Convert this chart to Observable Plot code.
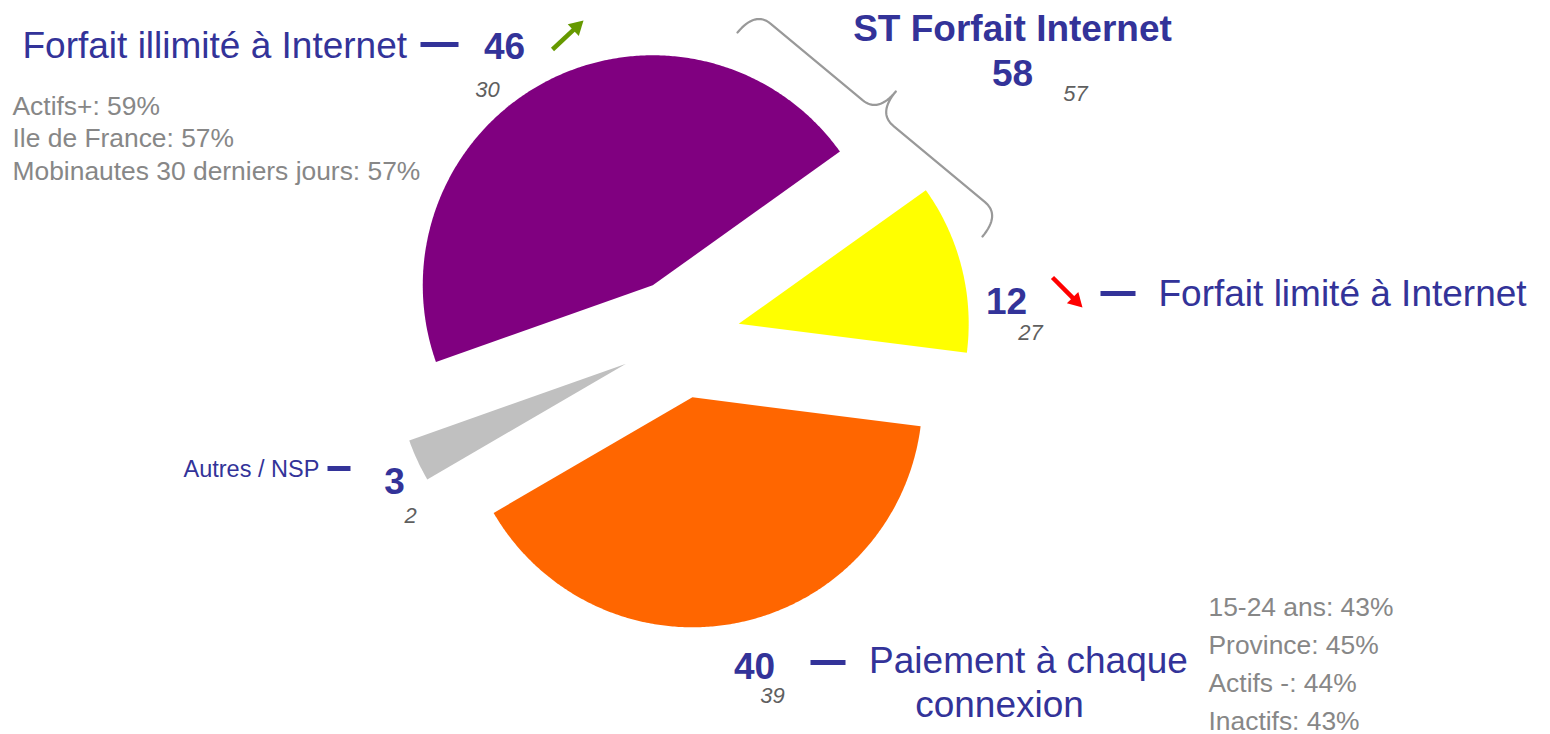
<!DOCTYPE html>
<html><head><meta charset="utf-8">
<script src="https://cdn.jsdelivr.net/npm/d3@7"></script>
<script src="https://cdn.jsdelivr.net/npm/@observablehq/plot@0.6"></script>
<style>body{margin:0;background:#fff;} svg{display:block;}</style>
</head><body><div id="chart"></div>
<script>
// ---------- DATA ----------
const categories = ["Forfait illimité à Internet", "Forfait limité à Internet", "Paiement à chaque connexion", "Autres / NSP"];
const values = [46, 12, 40, 3];
const previousValues = [30, 27, 39, 2];
const trends = ["up", "down", null, null];
const sliceColors = ["#800080", "#ffff00", "#ff6600", "#c0c0c0"];
const subtotalLabel = "ST Forfait Internet";
const subtotalValue = 58;
const subtotalPrevious = 57;
const illimiteDetails = ["Actifs+: 59%", "Ile de France: 57%", "Mobinautes 30 derniers jours: 57%"];
const paiementDetails = ["15-24 ans: 43%", "Province: 45%", "Actifs -: 44%", "Inactifs: 43%"];

// ---------- LAYOUT ----------
const W = 1550, H = 734;
const FONT = "'Liberation Sans', Arial, Helvetica, sans-serif";
const blue = "#333399", grey = "#878787", darkGrey = "#5f5f5f";
const pie = {cx: 680, cy: 338, r: 230, explode: 60, startDeg: -109.5};

const slices = categories.map((name, i) => ({name, value: values[i]}));
const a0 = pie.startDeg * Math.PI / 180;
const arcs = d3.pie().sort(null).value(d => d.value).startAngle(a0).endAngle(a0 + 2 * Math.PI)(slices);
const polyPts = [];
for (const a of arcs) {
  const mid = (a.startAngle + a.endAngle) / 2;
  const ox = pie.cx + pie.explode * Math.sin(mid), oy = pie.cy - pie.explode * Math.cos(mid);
  polyPts.push({name: a.data.name, x: ox, y: oy});
  const n = Math.max(8, Math.ceil((a.endAngle - a.startAngle) / (Math.PI / 360)));
  for (let k = 0; k <= n; k++) {
    const t = a.startAngle + (a.endAngle - a.startAngle) * k / n;
    polyPts.push({name: a.data.name, x: ox + pie.r * Math.sin(t), y: oy - pie.r * Math.cos(t)});
  }
  polyPts.push({name: a.data.name, x: ox, y: oy});
}

// curly brace between two points, bulging to the left of travel direction
function bracePoints(p0, p1, h) {
  const dx = p1[0] - p0[0], dy = p1[1] - p0[1], L = Math.hypot(dx, dy);
  const ux = dx / L, uy = dy / L, vx = uy, vy = -ux;
  const q = 20, m = L / 2;
  const segs = [
    [[0, 0], [0, h], [q, h]],
    [[q, h], null, [m - q, h]],
    [[m - q, h], [m, h], [m, 2 * h]],
    [[m, 2 * h], [m, h], [m + q, h]],
    [[m + q, h], null, [L - q, h]],
    [[L - q, h], [L, h], [L, 0]]
  ];
  const pts = [];
  for (const [s, c, e] of segs) {
    const N = c ? 16 : 1;
    for (let k = 0; k <= N; k++) {
      const t = k / N;
      let u, v;
      if (c) {
        u = (1 - t) * (1 - t) * s[0] + 2 * (1 - t) * t * c[0] + t * t * e[0];
        v = (1 - t) * (1 - t) * s[1] + 2 * (1 - t) * t * c[1] + t * t * e[1];
      } else { u = s[0] + (e[0] - s[0]) * t; v = s[1] + (e[1] - s[1]) * t; }
      pts.push({x: p0[0] + u * ux + v * vx, y: p0[1] + u * uy + v * vy});
    }
  }
  return pts;
}
const brace = bracePoints([737, 32], [982, 236], 28);

const pIdx = categories[2].lastIndexOf(" ");
const mainLabels = [
  {text: categories[0], x: 22, y: 57, anchor: "start"},
  {text: categories[1], x: 1158, y: 305, anchor: "start"}
];
const midLabels = [
  {text: categories[2].slice(0, pIdx), x: 1028, y: 672},
  {text: categories[2].slice(pIdx + 1), x: 999, y: 716}
];
const smallLabels = [{text: categories[3], x: 183, y: 476}];
const valuePos = [[504, 58], [1006, 313], [754, 678], [394, 493]];
const prevPos = [[487, 96], [1030, 339], [772, 702], [410, 522]];
const valueLabels = values.map((v, i) => ({text: String(v), x: valuePos[i][0], y: valuePos[i][1]}))
  .concat([{text: subtotalLabel, x: 1012, y: 40}, {text: String(subtotalValue), x: 1012, y: 85}]);
const prevLabels = previousValues.map((v, i) => ({text: String(v), x: prevPos[i][0], y: prevPos[i][1]}))
  .concat([{text: String(subtotalPrevious), x: 1075, y: 100}]);
const detailLabels = illimiteDetails.map((t, i) => ({text: t, x: 12, y: 114 + i * 32.5}))
  .concat(paiementDetails.map((t, i) => ({text: t, x: 1208, y: 615 + i * 38})));
const dashes = [
  {x1: 420, x2: 458, y: 44}, {x1: 1100, x2: 1135, y: 293},
  {x1: 810, x2: 845, y: 662}, {x1: 327, x2: 350, y: 468}
];
const arrowPos = {up: {x1: 552, y1: 49, x2: 583, y2: 20, color: "#669900"},
                  down: {x1: 1052, y1: 277, x2: 1082, y2: 307, color: "#ff0000"}};
const HEAD = 14, HEAD_R = 6;
const arrows = trends.filter(t => t).map(t => {
  const a = arrowPos[t];
  const dx = a.x2 - a.x1, dy = a.y2 - a.y1, L = Math.hypot(dx, dy), ux = dx / L, uy = dy / L;
  return {...a, bx: a.x2 - ux * (HEAD - 1), by: a.y2 - uy * (HEAD - 1),
          hx: a.x2 - ux * HEAD * 2 / 3, hy: a.y2 - uy * HEAD * 2 / 3,
          rot: Math.atan2(dx, -dy) * 180 / Math.PI};
});

const txt = (data, o) => Plot.text(data, {x: "x", y: "y", text: "text", textAnchor: o.anchor || "middle",
  lineAnchor: "bottom", fontSize: o.size, fontWeight: o.weight || "normal", fontStyle: o.style || "normal",
  fill: o.color, fontFamily: FONT});

const chart = Plot.plot({
  width: W, height: H, margin: 0,
  style: {fontFamily: FONT, background: "#fff"},
  x: {domain: [0, W], range: [0, W], axis: null},
  y: {domain: [0, H], range: [0, H], axis: null},
  color: {domain: categories, range: sliceColors},
  marks: [
    Plot.line(polyPts, {x: "x", y: "y", z: "name", fill: "name", stroke: "none", curve: "linear"}),
    Plot.line(brace, {x: "x", y: "y", stroke: "#999999", strokeWidth: 2.2, curve: "linear"}),
    Plot.link(dashes, {x1: "x1", x2: "x2", y1: "y", y2: "y", stroke: blue, strokeWidth: 5}),
    Plot.link(arrows, {x1: "x1", y1: "y1", x2: "bx", y2: "by", stroke: d => d.color, strokeWidth: 4.5}),
    Plot.dot(arrows, {x: "hx", y: "hy", symbol: "triangle", r: HEAD_R, rotate: "rot", fill: d => d.color, stroke: "none"}),
    txt(mainLabels, {anchor: "start", size: 37, color: blue}),
    txt(midLabels, {anchor: "middle", size: 37, color: blue}),
    txt(smallLabels, {anchor: "start", size: 23.5, color: blue}),
    txt(valueLabels, {size: 37, weight: "bold", color: blue}),
    txt(prevLabels, {size: 22, style: "italic", color: darkGrey}),
    txt(detailLabels, {anchor: "start", size: 26.4, color: grey})
  ]
});
document.getElementById("chart").appendChild(chart);
</script>
</body></html>
